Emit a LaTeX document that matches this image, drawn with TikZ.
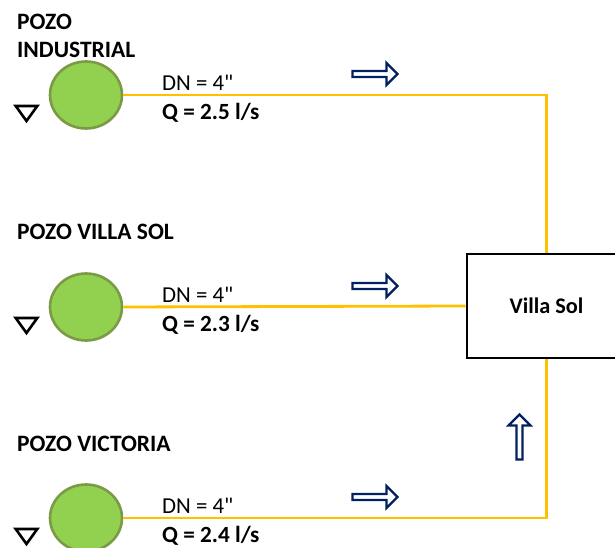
\documentclass[tikz,border=0pt]{standalone}
\usepackage{fontspec}
\setmainfont{Carlito}[Ligatures=TeXOff]
\usetikzlibrary{shapes.geometric,shapes.arrows}

\definecolor{wellgreen}{HTML}{92D050}
\definecolor{wellborder}{HTML}{7A9A45}
\definecolor{pipeyellow}{HTML}{FFC000}
\definecolor{flownavy}{HTML}{002060}

\tikzset{
    well/.style={ellipse, draw=wellborder, fill=wellgreen, line width=2.6pt, minimum width=72pt, minimum height=67pt, inner sep=0pt},
    pipe/.style={draw=pipeyellow, line width=2.8pt},
    flowarrow/.style={single arrow, draw=flownavy, fill=white, line width=2.2pt, minimum height=45pt, minimum width=22pt, single arrow head extend=3pt, inner sep=0pt, single arrow head indent=0pt},
    level/.style={draw=black, line width=2.6pt, line join=miter},
    wellname/.style={anchor=base west, inner sep=0pt, font=\fontsize{23.5}{23.5}\selectfont\bfseries},
    dnlab/.style={anchor=base west, inner sep=0pt, font=\fontsize{22.8}{22.8}\selectfont},
    qlab/.style={anchor=base west, inner sep=0pt, font=\fontsize{23.2}{23.2}\selectfont\bfseries}
}

\begin{document}
\begin{tikzpicture}[x=1pt, y=1pt]
    \useasboundingbox (0, 0) rectangle (615, 548);

    % y runs upward: 548 is the top of the page
    \foreach \n/\yw/\q in {1/453/2.5, 2/241/2.3, 3/30/2.4}{
        \node[well] (well\n) at (86, \yw) {};
        \node[dnlab] (dn\n) at (162, \yw+4) {DN = 4"};
        \node[qlab] (q\n) at (162, \yw-25) {Q = \q{} l/s};
        \node[flowarrow] (flow\n) at (373.5, \yw+21) {};

        \draw[level] (15.7, \yw-11) -- (37.3, \yw-11) -- (26.5, \yw-26) -- cycle;
    }

    \node[wellname] (name1a) at (17, 518) {POZO};
    \node[wellname] (name1b) at (17, 490) {INDUSTRIAL};
    \node[wellname] (name2) at (17, 308) {POZO VILLA SOL};
    \node[wellname] (name3) at (17, 96) {POZO VICTORIA};

    \node[draw=black, line width=2.6pt, minimum width=159pt, minimum height=104pt, inner sep=0pt,
          font=\fontsize{22.3}{22.3}\selectfont\bfseries] (villa) at (546.5, 242) {Villa Sol};

    \node[flowarrow, rotate=90] (flowup) at (519.5, 109.5) {};

    \draw[pipe] (well1.east) -| (villa.north);
    \draw[pipe] (well2.east) -- (villa.west);
    \draw[pipe] (well3.east) -| (villa.south);
\end{tikzpicture}
\end{document}
